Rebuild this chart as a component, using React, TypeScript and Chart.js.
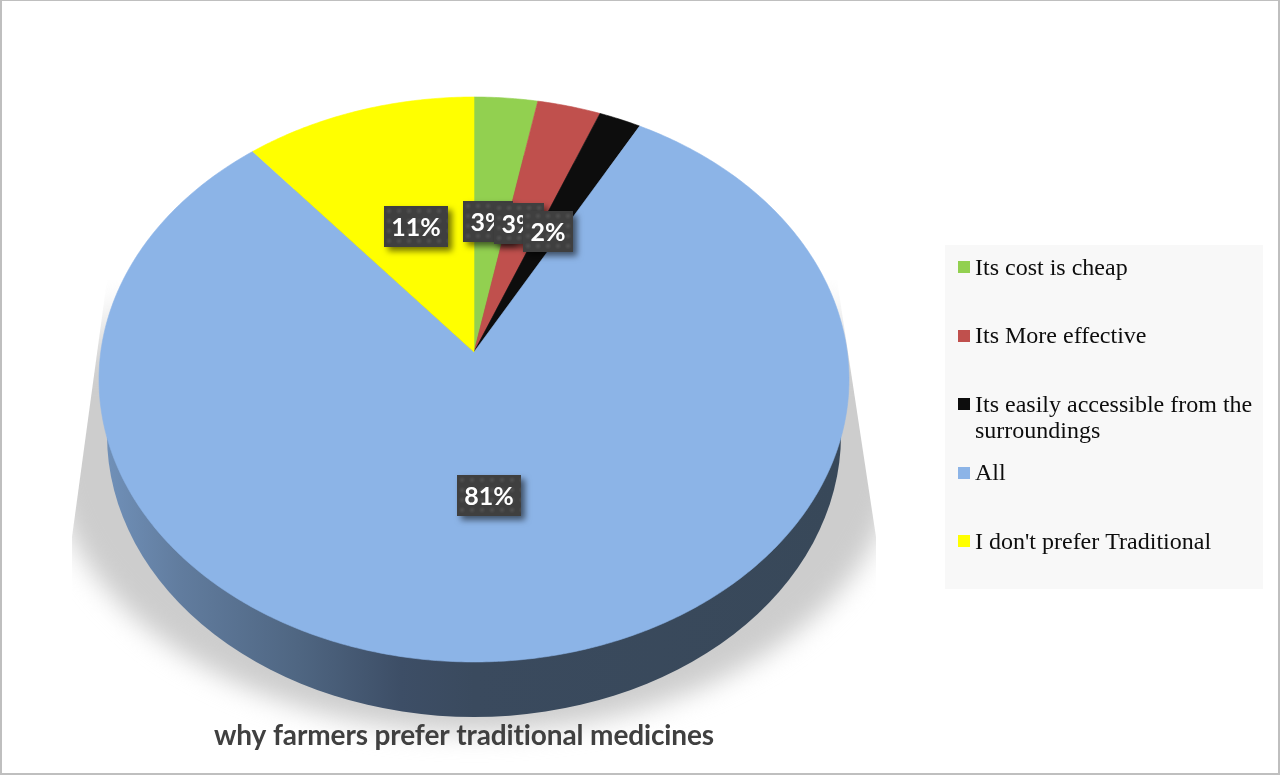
import React, { useEffect, useRef } from "react";
import { Chart, registerables } from "chart.js";

Chart.register(...registerables);

// Share of respondents for each reason, in percent.
const reasons: (string | string[])[] = [
  "Its cost is cheap",
  "Its More effective",
  ["Its easily accessible from the", "surroundings"],
  "All",
  "I don't prefer Traditional",
];
const shares = [3, 3, 2, 81, 11];
const sliceColors = ["#92d050", "#c0504d", "#0d0d0d", "#8cb4e7", "#ffff00"];
const chartTitle = "why farmers prefer traditional medicines";

// Small manual shifts that keep the value boxes from piling up further.
const labelNudge = [
  [0, 0],
  [-2, -3],
  [1, -2],
  [-1, 0],
  [3, -2],
];

// Tilted disc: a unit circle pushed through a perspective projection.
const APEX_X = 474;
const APEX_Y = 352;
const SCALE_X = 373.2;
const SCALE_Y = 279.8;
const TILT = -0.0973;

const project = (u: number, v: number): [number, number] => {
  const d = 1 + TILT * v;
  return [APEX_X + (SCALE_X * u) / d, APEX_Y + (SCALE_Y * v) / d];
};

const boxPattern = (): HTMLCanvasElement => {
  const tile = document.createElement("canvas");
  tile.width = 10;
  tile.height = 10;
  const c = tile.getContext("2d")!;
  c.fillStyle = "#3f3f3f";
  c.fillRect(0, 0, 10, 10);
  const g = c.createRadialGradient(5, 5, 0, 5, 5, 3.5);
  g.addColorStop(0, "rgba(255,255,255,0.09)");
  g.addColorStop(1, "rgba(255,255,255,0)");
  c.fillStyle = g;
  c.fillRect(0, 0, 10, 10);
  return tile;
};

const backdrop = {
  id: "backdrop",
  beforeDraw(chart: any) {
    const { ctx, width, height } = chart;
    ctx.save();
    ctx.fillStyle = "#ffffff";
    ctx.fillRect(0, 0, width, height);

    // Soft floor shadow, cut by two slanted edges and fading out upward.
    ctx.save();
    ctx.beginPath();
    ctx.moveTo(107, 280);
    ctx.lineTo(837, 280);
    ctx.lineTo(876, 537);
    ctx.lineTo(876, 775);
    ctx.lineTo(72, 775);
    ctx.lineTo(72, 537);
    ctx.closePath();
    ctx.clip();
    ctx.filter = "blur(13px)";
    const floor = ctx.createLinearGradient(0, 285, 0, 375);
    floor.addColorStop(0, "rgba(205,205,205,0)");
    floor.addColorStop(1, "rgba(205,205,205,1)");
    ctx.fillStyle = floor;
    ctx.beginPath();
    ctx.ellipse(APEX_X, 445, 425, 287, 0, 0, Math.PI * 2);
    ctx.fill();
    ctx.restore();

    // Disc wall.
    const wall = ctx.createLinearGradient(107, 0, 841, 0);
    wall.addColorStop(0, "#7090b8");
    wall.addColorStop(0.1, "#617c9e");
    wall.addColorStop(0.26, "#4f6682");
    wall.addColorStop(0.4, "#3d4e66");
    wall.addColorStop(0.5, "#3a4a5e");
    wall.addColorStop(1, "#384859");
    ctx.fillStyle = wall;
    ctx.beginPath();
    ctx.ellipse(APEX_X, 435, 367, 282, 0, 0, Math.PI * 2);
    ctx.fill();

    // Frame.
    ctx.fillStyle = "#bfbfbf";
    ctx.fillRect(0, 0, width, 1);
    ctx.fillRect(0, 0, 2, height);
    ctx.fillRect(width - 2, 0, 2, height);
    ctx.fillRect(0, height - 2, width, 2);
    ctx.restore();

    // Keeps the heading free of ligatures and slightly tightened.
    ctx.letterSpacing = "-0.12px";
  },
};

const tiltedSlices = {
  id: "tiltedSlices",
  beforeDatasetDraw(chart: any, args: any) {
    const { ctx } = chart;
    const colors = chart.data.datasets[args.index].backgroundColor;
    chart.getDatasetMeta(args.index).data.forEach((arc: any, i: number) => {
      const { startAngle, endAngle } = arc;
      const steps = Math.max(2, Math.ceil((endAngle - startAngle) / 0.01));
      ctx.beginPath();
      ctx.moveTo(...project(0, 0));
      for (let s = 0; s <= steps; s++) {
        const a = startAngle + ((endAngle - startAngle) * s) / steps;
        ctx.lineTo(...project(Math.cos(a), Math.sin(a)));
      }
      ctx.closePath();
      ctx.fillStyle = colors[i];
      ctx.strokeStyle = colors[i];
      ctx.lineWidth = 0.6;
      ctx.fill();
      ctx.stroke();
    });
    return false;
  },
  afterDatasetsDraw(chart: any) {
    const { ctx } = chart;
    const values = chart.data.datasets[0].data;
    const tile = ctx.createPattern(boxPattern(), "repeat");
    chart.getDatasetMeta(0).data.forEach((arc: any, i: number) => {
      const a = (arc.startAngle + arc.endAngle) / 2;
      const [px, py] = project(0.49 * Math.cos(a), 0.49 * Math.sin(a));
      const text = `${values[i]}%`;
      const w = text.length > 2 ? 64 : 50;
      const h = 41;
      const x = Math.round(px - 2 - w / 2) + labelNudge[i][0];
      const y = Math.round(py - h / 2) + labelNudge[i][1];
      ctx.save();
      ctx.letterSpacing = "0px";
      ctx.shadowColor = "rgba(0,0,0,0.55)";
      ctx.shadowBlur = 6;
      ctx.shadowOffsetX = 4;
      ctx.shadowOffsetY = 4;
      ctx.translate(x, y);
      ctx.fillStyle = tile;
      ctx.fillRect(0, 0, w, h);
      ctx.restore();
      ctx.save();
      ctx.letterSpacing = "0px";
      ctx.fillStyle = "#ffffff";
      ctx.font = "700 25px Lato";
      ctx.textAlign = "center";
      ctx.textBaseline = "middle";
      ctx.fillText(text, x + w / 2, y + h / 2 + 1);
      ctx.restore();
    });
  },
};

// Key panel with the wrapped entry starting each row on a fixed pitch.
const keyPanel = {
  id: "keyPanel",
  afterDraw(chart: any) {
    const { ctx } = chart;
    const labels = chart.data.labels;
    const colors = chart.data.datasets[0].backgroundColor;
    ctx.save();
    ctx.letterSpacing = "0px";
    ctx.fillStyle = "#f8f8f8";
    ctx.fillRect(945, 245, 318, 344);
    ctx.font = "24px 'Liberation Serif'";
    ctx.textAlign = "left";
    ctx.textBaseline = "alphabetic";
    labels.forEach((label: string | string[], i: number) => {
      const base = 274.5 + i * 68.5;
      ctx.fillStyle = colors[i];
      ctx.fillRect(958, Math.round(base - 0.5) - 13, 12, 12);
      ctx.fillStyle = "#0d0d0d";
      const lines = Array.isArray(label) ? label : [label];
      lines.forEach((line, n) => ctx.fillText(line, 975, base + n * 26.5));
    });
    ctx.restore();
  },
};

export default function App() {
  const ref = useRef<HTMLCanvasElement>(null);
  useEffect(() => {
    const chart = new Chart(ref.current!, {
      type: "pie",
      data: {
        labels: reasons as any,
        datasets: [{ data: shares, backgroundColor: sliceColors, borderWidth: 0 }],
      },
      options: {
        animation: false,
        responsive: false,
        layout: { padding: { left: 0, right: 352, top: 0, bottom: 0 } },
        plugins: {
          legend: { display: false },
          tooltip: { enabled: false },
          title: {
            display: true,
            text: chartTitle,
            position: "bottom",
            color: "#404040",
            font: { family: "Lato", size: 28, weight: "700", lineHeight: 1.2 },
            padding: { top: 0, bottom: 22 },
            z: 1,
          } as any,
        },
      },
      plugins: [backdrop, tiltedSlices, keyPanel],
    });
    return () => chart.destroy();
  }, []);
  return (
    <div style={{ position: "absolute", left: 0, top: 0, width: 1280, height: 775 }}>
      <canvas ref={ref} width={1280} height={775} style={{ display: "block" }} />
    </div>
  );
}
